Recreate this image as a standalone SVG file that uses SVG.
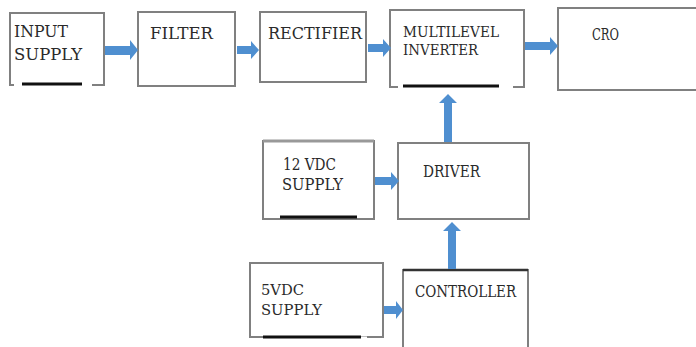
<svg xmlns="http://www.w3.org/2000/svg" width="696" height="347" viewBox="0 0 696 347">
<style>
.box{fill:#fff;stroke:#808080;stroke-width:2}
.t{font-family:"DejaVu Serif","Liberation Serif",serif;font-size:16px;fill:#2a2a2a}
.tc{font-family:"DejaVu Serif","Liberation Serif",serif;font-size:15px;fill:#2a2a2a}
.bar{stroke:#111;stroke-width:3}
.gap{stroke:#fff;stroke-width:3}
.arr{fill:#4f8fd0}
</style>
<rect width="696" height="347" fill="#fff"/>
<g id="input-supply">
<rect class="box" x="10" y="13" width="94" height="72"/>
<line class="gap" x1="14" y1="85" x2="92" y2="85"/>
<line class="bar" x1="22" y1="84" x2="82" y2="84"/>
<text class="t" x="14" y="37" textLength="54" lengthAdjust="spacingAndGlyphs">INPUT</text>
<text class="t" x="14" y="60" textLength="68" lengthAdjust="spacingAndGlyphs">SUPPLY</text>
</g>
<g id="filter">
<rect class="box" x="138" y="12" width="97" height="74"/>
<text class="t" x="150" y="39" textLength="63" lengthAdjust="spacingAndGlyphs">FILTER</text>
</g>
<g id="rectifier">
<rect class="box" x="260" y="12" width="106" height="70"/>
<text class="t" x="268" y="39" textLength="94" lengthAdjust="spacingAndGlyphs">RECTIFIER</text>
</g>
<g id="multilevel-inverter">
<rect class="box" x="390" y="10" width="134" height="77"/>
<line class="gap" x1="398" y1="87" x2="513" y2="87"/>
<line class="bar" x1="403" y1="86" x2="499" y2="86"/>
<text class="tc" x="403" y="37" textLength="96" lengthAdjust="spacingAndGlyphs">MULTILEVEL</text>
<text class="tc" x="403" y="55" textLength="75" lengthAdjust="spacingAndGlyphs">INVERTER</text>
</g>
<g id="cro">
<rect class="box" x="558" y="8" width="142" height="82"/>
<text class="t" x="592" y="40" font-size="12" textLength="27" lengthAdjust="spacingAndGlyphs">CRO</text>
</g>
<g id="vdc12-supply">
<rect class="box" x="263" y="141" width="111" height="78"/>
<line x1="263" y1="141" x2="374" y2="141" stroke="#999" stroke-width="3"/>
<line class="bar" x1="280" y1="217" x2="357" y2="217"/>
<text class="t" x="283" y="170" textLength="53" lengthAdjust="spacingAndGlyphs">12 VDC</text>
<text class="t" x="282" y="190" textLength="61" lengthAdjust="spacingAndGlyphs">SUPPLY</text>
</g>
<g id="driver">
<rect class="box" x="398" y="143" width="131" height="76"/>
<text class="t" x="423" y="177" textLength="57" lengthAdjust="spacingAndGlyphs">DRIVER</text>
</g>
<g id="vdc5-supply">
<rect class="box" x="250" y="263" width="133" height="74"/>
<line class="gap" x1="360" y1="338" x2="367" y2="338"/>
<line class="bar" x1="263" y1="337" x2="361" y2="337"/>
<text class="tc" x="261" y="295" textLength="43" lengthAdjust="spacingAndGlyphs">5VDC</text>
<text class="tc" x="261" y="315" textLength="61" lengthAdjust="spacingAndGlyphs">SUPPLY</text>
</g>
<g id="controller">
<rect class="box" x="403" y="270" width="125" height="82"/>
<line x1="403" y1="270" x2="528" y2="270" stroke="#333" stroke-width="2.5"/>
<text class="t" x="415" y="297" font-size="14" textLength="101" lengthAdjust="spacingAndGlyphs">CONTROLLER</text>
</g>
<g id="connectors">
<polygon class="arr" points="105,46 130,46 130,40 138,50 130,60 130,55 105,55"/>
<polygon class="arr" points="237,46 251,46 251,41 259,50 251,59 251,54 237,54"/>
<polygon class="arr" points="368,44 383,44 383,39 391,48 383,57 383,52 368,52"/>
<polygon class="arr" points="525,42 550,42 550,37 558,46 550,55 550,50 525,50"/>
<polygon class="arr" points="444,142 444,103 439,103 448,94 457,103 452,103 452,142"/>
<polygon class="arr" points="375,177 391,177 391,172 399,181 391,190 391,185 375,185"/>
<polygon class="arr" points="448,269 448,231 443,231 452,222 461,231 456,231 456,269"/>
<polygon class="arr" points="384,306 396,306 396,301 403,310 396,319 396,314 384,314"/>
</g>
</svg>
